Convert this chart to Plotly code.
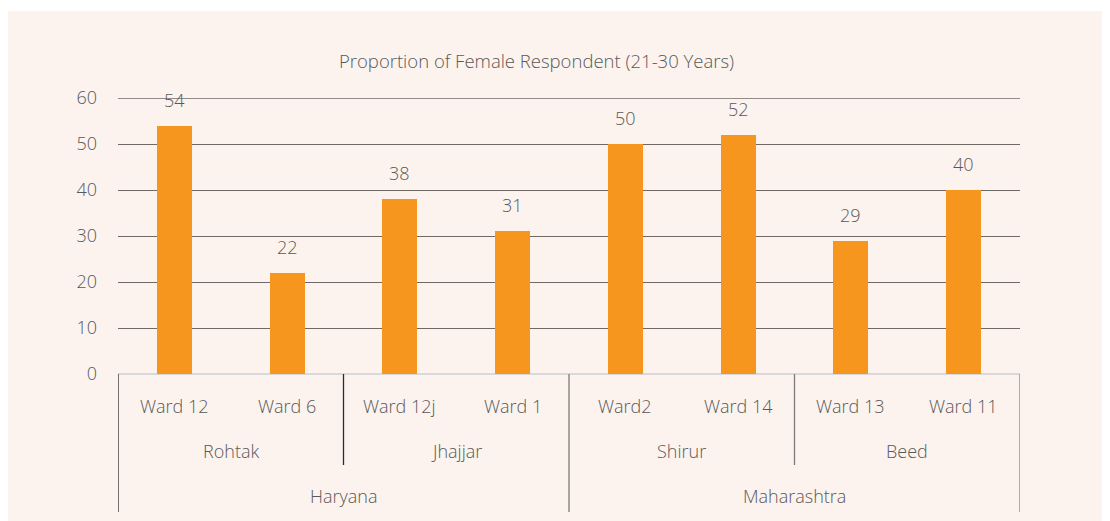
import plotly.graph_objects as go

states = ["Haryana", "Maharashtra"]
districts = ["Rohtak", "Jhajjar", "Shirur", "Beed"]
wards = ["Ward 12", "Ward 6", "Ward 12j", "Ward 1", "Ward2", "Ward 14", "Ward 13", "Ward 11"]
values = [54, 22, 38, 31, 50, 52, 29, 40]
ward_district = [0, 0, 1, 1, 2, 2, 3, 3]
district_state = [0, 0, 1, 1]
y_ticks = [0, 10, 20, 30, 40, 50, 60]
title_text = "Proportion of Female Respondent (21-30 Years)"

FONT = "Open Sans"
FW = 300
TXT = "#595959"
BAR = "#F7961F"
BG = "#FCF3EE"
GRID = "#6f6965"

# figure is placed by the page at (8, 8); it overflows to fill the window
W, H = 1110, 521
ML, MT = 110, 90
PW, PH = 902, 276
MR, MB = W - ML - PW, H - MT - PH


def px_x(p):
    return (p - ML) / PW


def px_y(p):
    return (MT + PH - p) / PH


def font(size=18):
    return dict(family=FONT, size=size, color=TXT, weight=FW)


xs = list(range(len(wards)))

fig = go.Figure()
fig.add_trace(go.Bar(x=xs, y=values, width=0.31, marker=dict(color=BAR, line=dict(width=0)),
                     hoverinfo="y"))

annotations = []
for x, v in zip(xs, values):
    annotations.append(dict(x=x, y=v, xref="x", yref="y", text=str(v), showarrow=False,
                            yanchor="bottom", yshift=12, font=font()))
for x, w in zip(xs, wards):
    annotations.append(dict(x=x, y=px_y(398), xref="x", yref="paper", text=w, showarrow=False,
                            yanchor="middle", font=font()))
shapes = []
for d, name in enumerate(districts):
    idx = [i for i, wd in enumerate(ward_district) if wd == d]
    cx = (idx[0] + idx[-1]) / 2
    annotations.append(dict(x=cx, y=px_y(443), xref="x", yref="paper", text=name, showarrow=False,
                            yanchor="middle", font=font()))
    if d < len(districts) - 1 and district_state[d] == district_state[d + 1]:
        shapes.append(dict(type="line", xref="x", yref="paper", x0=idx[-1] + 0.5, x1=idx[-1] + 0.5,
                           y0=0, y1=px_y(457),
                           line=dict(color="#2b2b2b" if d == 0 else "#7f7a76", width=1.3)))
for s, name in enumerate(states):
    idx = [i for i, wd in enumerate(ward_district) if district_state[wd] == s]
    cx = (idx[0] + idx[-1]) / 2
    annotations.append(dict(x=cx, y=px_y(488), xref="x", yref="paper", text=name, showarrow=False,
                            yanchor="middle", font=font()))
    shapes.append(dict(type="line", xref="x", yref="paper", x0=idx[0] - 0.5, x1=idx[0] - 0.5,
                       y0=0, y1=px_y(504),
                       line=dict(color="#2b2b2b" if s == 0 else "#7f7a76", width=1.3)))
shapes.append(dict(type="line", xref="x", yref="paper", x0=len(wards) - 0.5, x1=len(wards) - 0.5,
                   y0=0, y1=px_y(504), line=dict(color="#8a8480", width=1.3)))
# top gridline (at the range edge)
shapes.append(dict(type="line", xref="paper", yref="y", x0=0, x1=1, y0=y_ticks[-1], y1=y_ticks[-1],
                   line=dict(color=GRID, width=1.3)))
shapes.insert(0, dict(type="rect", xref="paper", yref="paper", x0=px_x(0), x1=px_x(W + 20),
                      y0=px_y(H + 20), y1=px_y(3), fillcolor=BG, line=dict(width=0), layer="below"))

annotations.append(dict(x=px_x(528), y=px_y(38), xref="paper", yref="paper", text=title_text,
                        showarrow=False, font=font(18.5)))

fig.update_layout(
    width=W, height=H,
    margin=dict(l=ML, r=MR, t=MT, b=MB),
    paper_bgcolor="white",
    plot_bgcolor="rgba(0,0,0,0)",
    showlegend=False,
    bargap=0,
    xaxis=dict(range=[-0.5, len(wards) - 0.5], showticklabels=False, showgrid=False, zeroline=False,
               showline=False, fixedrange=True),
    yaxis=dict(range=[y_ticks[0], y_ticks[-1]], tickvals=y_ticks, showgrid=True,
               gridcolor=GRID, gridwidth=1.3, zeroline=True, zerolinecolor="#d9d9d9",
               zerolinewidth=1.5, ticklabelstandoff=20,
               tickfont=font(), showline=False, fixedrange=True),
    annotations=annotations,
    shapes=shapes,
)

fig.write_html("out.html")
